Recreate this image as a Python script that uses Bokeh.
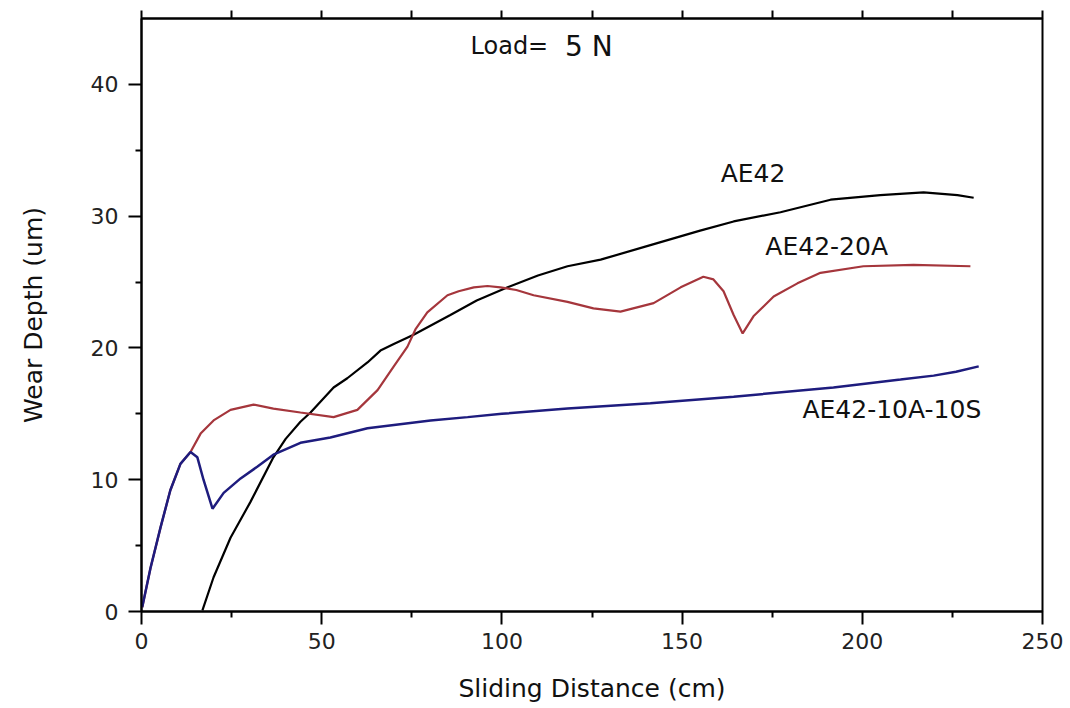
from bokeh.plotting import figure
from bokeh.models import LinearAxis, Label, Range1d, FixedTicker
from bokeh.embed import file_html
from bokeh.resources import INLINE

# --- data ---
ae42_x = [16.9, 20.0, 24.7, 30.2, 36.6, 40.0, 44.1, 46.9, 53.3, 57.1, 62.7, 66.3, 70.0,
          75.5, 85.7, 93.0, 101.6, 110.0, 118.2, 127.4, 141.2, 155.0, 164.3, 177.3,
          191.2, 205.0, 217.0, 226.4, 230.9]
ae42_y = [0.08, 2.6, 5.6, 8.3, 11.7, 13.1, 14.4, 15.1, 17.0, 17.7, 18.9, 19.8, 20.3,
          21.0, 22.5, 23.6, 24.6, 25.5, 26.2, 26.7, 27.8, 28.9, 29.6, 30.3,
          31.25, 31.6, 31.8, 31.6, 31.4]

ae42_20a_x = [0.2, 2.5, 5.3, 8.0, 10.8, 13.6, 16.4, 20.0, 24.7, 31.1, 36.6, 44.1, 53.3,
              59.9, 65.5, 70.0, 73.8, 76.0, 79.3, 84.9, 88.0, 92.2, 96.0, 99.6, 104.0,
              108.8, 118.2, 125.4, 132.9, 142.1, 149.6, 155.9, 158.7, 161.5, 164.3, 166.8,
              169.8, 175.4, 182.0, 188.4, 200.3, 214.2, 230.0]
ae42_20a_y = [0.33, 3.3, 6.4, 9.2, 11.2, 12.1, 13.5, 14.5, 15.3, 15.7, 15.4, 15.1, 14.75,
              15.3, 16.8, 18.6, 20.1, 21.4, 22.7, 24.0, 24.3, 24.6, 24.7, 24.6, 24.4,
              24.0, 23.5, 23.0, 22.76, 23.4, 24.6, 25.4, 25.2, 24.3, 22.5, 21.1,
              22.4, 23.9, 24.9, 25.7, 26.2, 26.3, 26.2]

ae42_10a_10s_x = [0.2, 2.5, 5.3, 8.0, 10.8, 13.6, 15.5, 17.2, 19.7, 22.8, 27.5, 32.2, 36.6,
                  44.1, 52.4, 62.7, 80.2, 90.5, 100.0, 118.2, 141.2, 164.3, 192.0, 210.6,
                  219.8, 226.0, 232.3]
ae42_10a_10s_y = [0.33, 3.3, 6.4, 9.2, 11.2, 12.1, 11.7, 10.0, 7.8, 9.0, 10.1, 11.0, 11.9,
                  12.8, 13.2, 13.9, 14.5, 14.75, 15.0, 15.4, 15.8, 16.3, 17.0, 17.6,
                  17.9, 18.2, 18.6]

x_ticks = [0, 50, 100, 150, 200, 250]
x_minor = [25, 75, 125, 175, 225]
y_ticks = [0, 10, 20, 30, 40]
y_minor = [5, 15, 25, 35]

FONT = "DejaVu Sans"

p = figure(width=1070, height=708, x_range=Range1d(0, 250), y_range=Range1d(0, 45),
           output_backend="svg", toolbar_location=None,
           min_border_left=141, min_border_right=28, min_border_top=18, min_border_bottom=97)
p.grid.visible = False
p.background_fill_color = "white"
p.border_fill_color = "white"
p.outline_line_color = "black"
p.outline_line_width = 2
p.outline_line_alpha = 1.0

for ax in (p.xaxis[0], p.yaxis[0]):
    ax.axis_line_width = 2
    ax.major_tick_line_width = 2
    ax.minor_tick_line_width = 2
    ax.major_tick_in = 0
    ax.minor_tick_in = 0
    ax.major_tick_out = 13
    ax.minor_tick_out = 6
    ax.major_label_text_font = FONT
    ax.major_label_text_font_size = "22px"
    ax.major_label_text_color = "#222222"
    ax.axis_label_text_font = FONT
    ax.axis_label_text_font_size = "25px"
    ax.axis_label_text_font_style = "normal"
    ax.axis_label_text_color = "#111111"

p.xaxis[0].ticker = FixedTicker(ticks=x_ticks, minor_ticks=x_minor)
p.yaxis[0].ticker = FixedTicker(ticks=y_ticks, minor_ticks=y_minor)
p.xaxis[0].axis_label = "Sliding Distance (cm)"
p.yaxis[0].axis_label = "Wear Depth (um)"
p.xaxis[0].major_label_standoff = 8
p.yaxis[0].major_label_standoff = 10
p.xaxis[0].axis_label_standoff = 22
p.yaxis[0].axis_label_standoff = 40

# top frame axis: tick marks only (no labels)
top = LinearAxis(ticker=FixedTicker(ticks=[], minor_ticks=x_ticks + x_minor))
top.axis_line_width = 2
top.minor_tick_line_width = 2
top.minor_tick_in = 0
top.minor_tick_out = 8
top.major_label_standoff = 0
p.add_layout(top, "above")

p.line(ae42_x, ae42_y, line_color="black", line_width=2.2)
p.line(ae42_20a_x, ae42_20a_y, line_color="#A5363C", line_width=2.2)
p.line(ae42_10a_10s_x, ae42_10a_10s_y, line_color="#1E1C7E", line_width=2.5)

def lab(x, y, t, size):
    p.add_layout(Label(x=x, y=y, text=t, text_font=FONT, text_font_size=size,
                       text_color="#111111", text_baseline="middle", text_align="left"))

lab(91.3, 42.9, "Load=", "24px")
lab(117.5, 42.9, "5 N", "28px")
lab(160.7, 33.2, "AE42", "25px")
lab(173.1, 27.7, "AE42-20A", "25px")
lab(183.4, 15.3, "AE42-10A-10S", "25px")

open("out.html", "w").write(file_html(p, INLINE))
